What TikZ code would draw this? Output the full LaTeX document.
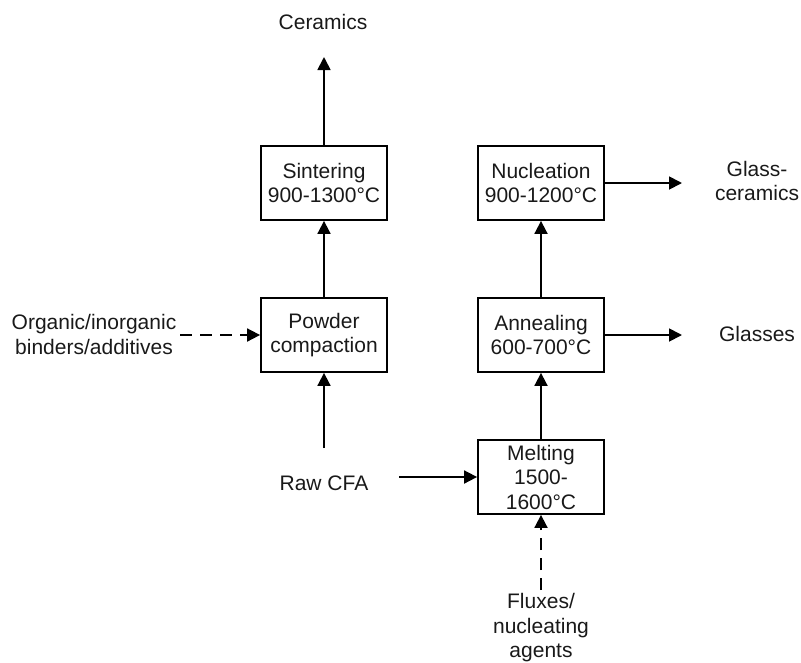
\documentclass[tikz,border=0pt]{standalone}
\usepackage{fontspec}
\setmainfont{Liberation Sans}
\usetikzlibrary{arrows.meta}
\begin{document}
\begin{tikzpicture}[x=1pt,y=-1pt,
  every node/.style={font=\fontsize{21}{24.5}\selectfont, text=black!90},
  proc/.style={draw=black, line width=1.8pt, minimum width=126pt, minimum height=74pt, align=center, inner sep=2pt},
  lbl/.style={align=center, inner sep=1pt},
  conn/.style={line width=1.8pt, -{Triangle[length=13pt,width=13pt]}},
  dconn/.style={conn, dash pattern=on 12pt off 8pt}
]
\useasboundingbox (0,0) rectangle (801,662);
% process boxes
\node[proc] (sint) at (324,183) {Sintering\\900-1300°C};
\node[proc] (powd) at (324,335) {Powder\\compaction};
\node[proc] (nucl) at (541,183) {Nucleation\\900-1200°C};
\node[proc] (anne) at (541,335) {Annealing\\600-700°C};
\node[proc] (melt) at (541,477) {Melting\\1500-\\1600°C};
% labels
\node[lbl] (cer) at (323,22) {Ceramics};
\node[lbl] (org) at (94,334.5) {Organic/inorganic\\binders/additives};
\node[lbl] (raw) at (324,483) {Raw CFA};
\node[lbl] (flux) at (541,628) {Fluxes/\\nucleating\\agents};
\node[lbl] (gc) at (757,181) {Glass-\\ceramics};
\node[lbl] (gl) at (757,334) {Glasses};
% free ends
\coordinate (cerTip) at (324,57);
\coordinate (rawTop) at (324,448);
\coordinate (rawR) at (399,477);
\coordinate (fluxTop) at (541,590);
\coordinate (orgR) at (180,335);
\coordinate (gcTip) at (682,183);
\coordinate (glTip) at (682,335);
% connectors
\draw[conn] (sint.north) -- (cerTip);
\draw[conn] (powd.north) -- (sint.south);
\draw[conn] (rawTop) -- (powd.south);
\draw[dconn] (orgR) -- (powd.west);
\draw[conn] (rawR) -- (melt.west);
\draw[conn] (melt.north) -- (anne.south);
\draw[conn] (anne.north) -- (nucl.south);
\draw[dconn] (fluxTop) -- (melt.south);
\draw[conn] (nucl.east) -- (gcTip);
\draw[conn] (anne.east) -- (glTip);
\end{tikzpicture}
\end{document}
